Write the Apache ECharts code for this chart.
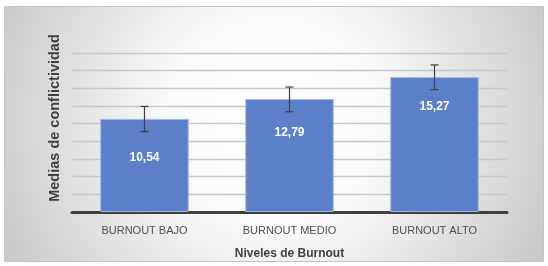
<!DOCTYPE html>
<html><head><meta charset="utf-8">
<script src="https://cdn.jsdelivr.net/npm/echarts@6/dist/echarts.min.js"></script>
<style>html,body{margin:0;padding:0;background:#fff}#c{width:548px;height:266px}</style>
</head><body><div id="c"></div>
<script>
const categories = ['BURNOUT BAJO', 'BURNOUT MEDIO', 'BURNOUT ALTO'];
const means = [10.54, 12.79, 15.27];
const errLow = [9.1, 11.35, 13.85];
const errHigh = [11.95, 14.15, 16.65];
const yMin = 0, yMax = 18, yStep = 2;
const labelTexts = ['10,54', '12,79', '15,27'];
const labelDistances = [33, 28, 24];

const chart = echarts.init(document.getElementById('c'), null, {renderer: 'canvas'});
const font = '"Liberation Sans", Arial, sans-serif';
chart.setOption({
  backgroundColor: '#ffffff',
  animation: false,
  graphic: [
    {type: 'rect', z: -10, shape: {x: 4.5, y: 6.5, width: 539, height: 255},
     style: {fill: {type: 'radial', x: 274, y: 120, r: 310, global: true,
       colorStops: [{offset: 0, color: '#ffffff'}, {offset: 0.35, color: '#fafafa'}, {offset: 1, color: '#c6c6c6'}]},
       stroke: '#c4c4c4', lineWidth: 1}},
    {type: 'text', z: 10, x: 55, y: 118, rotation: Math.PI / 2,
     style: {text: 'Medias de conflictividad', font: 'bold 14.5px ' + font, fill: '#3f3f3f', align: 'center', verticalAlign: 'middle'}}
  ],
  grid: {left: 72, right: 41, top: 53, bottom: 54, containLabel: false},
  xAxis: {
    type: 'category', data: categories,
    axisLine: {show: true, lineStyle: {color: '#404040', width: 3}},
    axisTick: {show: false},
    axisLabel: {color: '#505050', fontSize: 11, fontFamily: font, margin: 13},
    name: 'Niveles de Burnout', nameLocation: 'middle', nameGap: 36,
    nameTextStyle: {color: '#404040', fontSize: 12, fontWeight: 'bold', fontFamily: font}
  },
  yAxis: {
    type: 'value', min: yMin, max: yMax, interval: yStep,
    axisLine: {show: false}, axisTick: {show: false}, axisLabel: {show: false},
    splitLine: {lineStyle: {color: '#c8c8c8', width: 1.3}}
  },
  series: [
    {type: 'bar', barCategoryGap: '39%',
     itemStyle: {color: '#5b80c9', borderColor: '#9fb6e2', borderWidth: 1},
     data: means.map((v, i) => ({value: v, label: {distance: labelDistances[i]}})),
     label: {show: true, position: 'insideTop', color: '#ffffff', fontSize: 12, fontWeight: 'bold', fontFamily: font,
       formatter: p => labelTexts[p.dataIndex]}
    },
    {type: 'custom', z: 5,
     data: categories.map((c, i) => [i, errLow[i], errHigh[i]]),
     renderItem: function (params, api) {
       const lo = api.coord([api.value(0), api.value(1)]);
       const hi = api.coord([api.value(0), api.value(2)]);
       const w = 4;
       const st = {stroke: '#404040', lineWidth: 1.2};
       return {type: 'group', children: [
         {type: 'line', shape: {x1: lo[0], y1: lo[1], x2: hi[0], y2: hi[1]}, style: st},
         {type: 'line', shape: {x1: lo[0] - w, y1: lo[1], x2: lo[0] + w, y2: lo[1]}, style: st},
         {type: 'line', shape: {x1: hi[0] - w, y1: hi[1], x2: hi[0] + w, y2: hi[1]}, style: st}
       ]};
     }
    }
  ]
});
</script></body></html>
